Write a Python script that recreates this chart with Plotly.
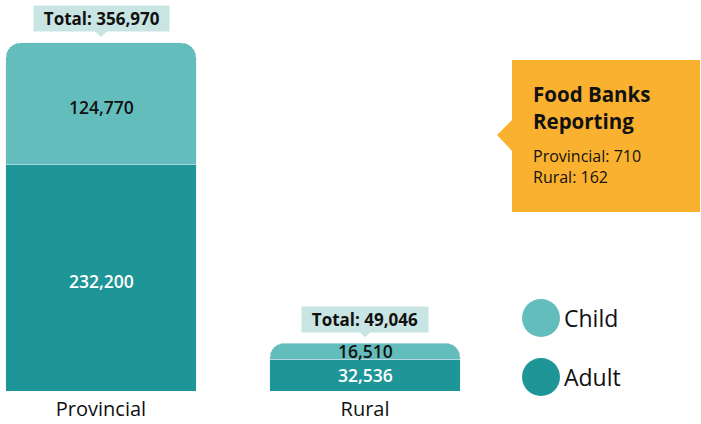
import plotly.graph_objects as go

categories = ["Provincial", "Rural"]
child = [124770, 16510]
adult = [232200, 32536]
totals = [356970, 49046]
food_banks = {"Provincial": 710, "Rural": 162}

CHILD_C = "#64bdbd"
ADULT_C = "#1e9697"
TOTAL_BG = "#c9e5e3"
ORANGE = "#fbb130"
FONT = "Open Sans"

xs = list(range(len(categories)))
fig = go.Figure()
fig.add_bar(x=xs, y=adult, name="Adult", marker_color=ADULT_C, width=0.72, hoverinfo="skip")
fig.add_bar(x=xs, y=child, name="Child", marker_color=CHILD_C, width=0.72, hoverinfo="skip")

W, H = 701, 424
fig.update_layout(
    width=W, height=H, barmode="stack", barcornerradius=14,
    margin=dict(l=0, r=0, t=0, b=33),
    plot_bgcolor="white", paper_bgcolor="white", showlegend=False,
    font=dict(family=FONT, color="black"),
    xaxis=dict(range=[-101/264, -101/264 + W/264], tickvals=xs, ticktext=categories,
               showgrid=False, zeroline=False, showline=False, ticklabelstandoff=4,
               tickfont=dict(size=20, color="#111"), ticks="", ticklen=0),
    yaxis=dict(range=[0, 401000], visible=False, showgrid=False),
)

# segment value labels
for x, a, c in zip(xs, adult, child):
    big = a > 100000
    fig.add_annotation(x=x, y=a / 2, yshift=-3 if big else 0, text=f"{a:,}", showarrow=False,
                       font=dict(size=17.5, color="white", weight=600))
    fig.add_annotation(x=x, y=a + c / 2, yshift=-3 if big else 0, text=f"{c:,}", showarrow=False,
                       font=dict(size=17.5, color="#111", weight=600))

for x, t in zip(xs, totals):
    fig.add_annotation(x=x, y=t, yshift=24, text=f"<b>&nbsp;&nbsp;Total: {t:,}&nbsp;&nbsp;</b>",
                       showarrow=False, bgcolor=TOTAL_BG, borderpad=1,
                       font=dict(size=17, color="#111"), xanchor="center", yanchor="middle")
    fig.add_shape(type="path", xref="x", yref="y", xsizemode="pixel", ysizemode="pixel",
                  xanchor=x, yanchor=t, path="M -7,12.5 L 7,12.5 L 0,6 Z",
                  fillcolor=TOTAL_BG, line_width=0)

PH = 391.0
def py(p):
    return (PH - p) / PH
def px(p):
    return p / W

# orange callout
fig.add_shape(type="rect", xref="paper", yref="paper", x0=px(512), x1=px(700),
              y0=py(212), y1=py(60), fillcolor=ORANGE, line_width=0, layer="below")
fig.add_shape(type="path", xref="paper", yref="paper",
              path=f"M {px(513)},{py(119)} L {px(497)},{py(135)} L {px(513)},{py(152)} Z",
              fillcolor=ORANGE, line_width=0, layer="below")
fig.add_annotation(xref="paper", yref="paper", x=px(532), y=py(108), xanchor="left",
                   yanchor="middle", align="left", showarrow=False, borderpad=0,
                   text="<b>Food Banks<br>Reporting</b>", font=dict(size=20.5, color="#111"))
fig.add_annotation(xref="paper", yref="paper", x=px(532), y=py(166), xanchor="left",
                   yanchor="middle", align="left", showarrow=False, borderpad=0,
                   text="<br>".join(f"{k}: {v}" for k, v in food_banks.items()),
                   font=dict(size=16, color="#111"))

# legend
for name, col, cy in [("Child", CHILD_C, 318), ("Adult", ADULT_C, 377)]:
    fig.add_shape(type="circle", xref="paper", yref="paper", xsizemode="pixel", ysizemode="pixel",
                  xanchor=px(541), yanchor=py(cy), x0=-19, x1=19, y0=-19, y1=19,
                  fillcolor=col, line_width=0)
    fig.add_annotation(xref="paper", yref="paper", x=px(562), y=py(cy), xanchor="left",
                       yanchor="middle", text=name, showarrow=False,
                       font=dict(size=23, color="#111"))

fig.write_html("out.html", config={"displayModeBar": False},
               post_script="document.body.style.margin='0';document.body.style.overflow='hidden';"
                           "document.documentElement.style.overflow='hidden';")
